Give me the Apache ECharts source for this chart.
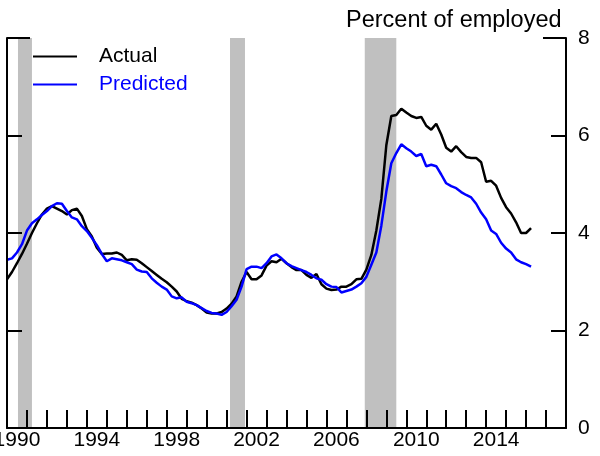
<!DOCTYPE html>
<html>
<head>
<meta charset="utf-8">
<script src="https://cdn.jsdelivr.net/npm/echarts@6/dist/echarts.min.js"></script>
<style>
  html, body { margin: 0; padding: 0; background: #fff; }
  #chart { width: 600px; height: 456px; }
</style>
</head>
<body>
<div id="chart"></div>
<script>
// quarterly data, 1990Q1 .. 2016Q2
const startYear = 1990
const actual = [
  3.05, 3.2, 3.38, 3.57, 3.78, 4.0, 4.2, 4.38, 4.5, 4.55,
  4.5, 4.45, 4.38, 4.47, 4.5, 4.35, 4.08, 3.93, 3.7, 3.57,
  3.58, 3.58, 3.6, 3.55, 3.44, 3.46, 3.45, 3.38, 3.3, 3.22,
  3.14, 3.06, 2.99, 2.9, 2.8, 2.65, 2.6, 2.57, 2.52, 2.45,
  2.37, 2.35, 2.35, 2.38, 2.45, 2.55, 2.7, 3.0, 3.2, 3.05,
  3.05, 3.13, 3.33, 3.42, 3.4, 3.47, 3.38, 3.3, 3.24, 3.24,
  3.14, 3.08, 3.16, 2.95, 2.86, 2.83, 2.84, 2.9, 2.9, 2.95,
  3.05, 3.06, 3.25, 3.55, 4.05, 4.7, 5.8, 6.4, 6.42, 6.55,
  6.47, 6.4, 6.36, 6.38, 6.2, 6.12, 6.24, 6.02, 5.75, 5.67,
  5.78, 5.66, 5.56, 5.54, 5.54, 5.45, 5.05, 5.07, 4.97, 4.72,
  4.53, 4.4, 4.22, 4.0, 4.0, 4.1
]
const predicted = [
  3.45, 3.48, 3.6, 3.77, 4.05, 4.2, 4.28, 4.37, 4.45, 4.55,
  4.61, 4.6, 4.45, 4.32, 4.28, 4.14, 4.04, 3.9, 3.75, 3.57,
  3.42, 3.48, 3.46, 3.44, 3.4, 3.36, 3.25, 3.21, 3.2, 3.07,
  2.98, 2.9, 2.84, 2.7, 2.66, 2.68, 2.59, 2.56, 2.52, 2.46,
  2.4, 2.36, 2.35, 2.32, 2.38, 2.5, 2.63, 2.9, 3.26, 3.31,
  3.31, 3.28, 3.38, 3.52, 3.56, 3.48, 3.38, 3.32, 3.28, 3.24,
  3.2, 3.14, 3.07, 3.04, 2.95, 2.9, 2.89, 2.78, 2.81, 2.84,
  2.9, 2.97, 3.1, 3.35, 3.6, 4.15, 4.85, 5.43, 5.64, 5.82,
  5.74, 5.67, 5.58, 5.62, 5.37, 5.4, 5.37, 5.2, 5.02, 4.96,
  4.92, 4.84, 4.78, 4.73, 4.6, 4.42, 4.28, 4.05, 3.98, 3.8,
  3.68, 3.6, 3.46, 3.4, 3.36, 3.31
]
// recession periods (fractional years)
const recessions = [
  [1990.55, 1991.25],
  [2001.17, 2001.92],
  [2007.92, 2009.5]
]
const yearLabels = []
for (let y = 1990; y < 2018; y++) yearLabels.push(String(y))

const toPoints = arr => arr.map((v, i) => [startYear + i / 4, v])

const chart = echarts.init(document.getElementById('chart'))
const font = "'Liberation Sans', Arial, sans-serif"

chart.setOption({
  animation: false,
  title: {
    text: 'Percent of employed',
    left: 341,
    top: 4,
    textStyle: { fontFamily: font, fontSize: 23.5, fontWeight: 'normal', color: '#000' }
  },
  legend: {
    orient: 'vertical',
    left: 28,
    top: 41,
    itemWidth: 44,
    itemHeight: 2,
    itemGap: 7,
    icon: 'rect',
    textStyle: { fontFamily: font, fontSize: 21, padding: [0, 0, 0, 17] },
    data: [
      { name: 'Actual', textStyle: { color: '#000' } },
      { name: 'Predicted', textStyle: { color: '#0000ff' } }
    ]
  },
  grid: { left: 7, right: 34, top: 38, bottom: 28, containLabel: false, outerBoundsMode: 'none' },
  xAxis: [
    {
      type: 'value',
      min: 1990,
      max: 2018,
      interval: 1,
      z: 5,
      axisLine: { show: true, lineStyle: { color: '#000', width: 2 } },
      axisTick: { show: true, inside: true, length: 18, lineStyle: { color: '#000', width: 2 } },
      axisLabel: { show: false },
      splitLine: { show: false }
    },
    {
      type: 'category',
      data: yearLabels,
      boundaryGap: true,
      position: 'bottom',
      axisLine: { show: false },
      axisTick: { show: false },
      axisLabel: { interval: 3, margin: 2, fontFamily: font, fontSize: 21, color: '#000' },
      splitLine: { show: false }
    }
  ],
  yAxis: [
    {
      type: 'value',
      position: 'right',
      min: 0,
      max: 8,
      interval: 2,
      z: 5,
      axisLine: { show: true, lineStyle: { color: '#000', width: 2 } },
      axisTick: { show: true, inside: true, length: 15, lineStyle: { color: '#000', width: 2 } },
      axisLabel: { margin: 12, fontFamily: font, fontSize: 21, color: '#000' },
      splitLine: { show: false }
    },
    {
      type: 'value',
      position: 'left',
      min: 0,
      max: 8,
      interval: 2,
      z: 5,
      axisLine: { show: true, lineStyle: { color: '#000', width: 2 } },
      axisTick: { show: true, inside: true, length: 15, lineStyle: { color: '#000', width: 2 } },
      axisLabel: { show: false },
      splitLine: { show: false }
    },
    {
      type: 'value',
      position: 'left',
      min: 0,
      max: 8,
      interval: 8,
      z: 5,
      axisLine: { show: false },
      axisTick: { show: true, inside: true, length: 23, lineStyle: { color: '#000', width: 2 } },
      axisLabel: { show: false },
      splitLine: { show: false }
    },
    {
      type: 'value',
      position: 'right',
      min: 0,
      max: 8,
      interval: 8,
      z: 5,
      axisLine: { show: false },
      axisTick: { show: true, inside: true, length: 23, lineStyle: { color: '#000', width: 2 } },
      axisLabel: { show: false },
      splitLine: { show: false }
    }
  ],
  series: [
    {
      name: 'Actual',
      type: 'line',
      xAxisIndex: 0,
      yAxisIndex: 0,
      data: toPoints(actual),
      showSymbol: false,
      lineStyle: { color: '#000', width: 2.5 },
      itemStyle: { color: '#000' },
      z: 3,
      markArea: {
        silent: true,
        itemStyle: { color: '#c0c0c0', opacity: 1 },
        data: recessions.map(r => [{ xAxis: r[0] }, { xAxis: r[1] }])
      }
    },
    {
      name: 'Predicted',
      type: 'line',
      xAxisIndex: 0,
      yAxisIndex: 0,
      data: toPoints(predicted),
      showSymbol: false,
      lineStyle: { color: '#0000ff', width: 2.5 },
      itemStyle: { color: '#0000ff' },
      z: 4
    }
  ]
})
</script>
</body>
</html>
